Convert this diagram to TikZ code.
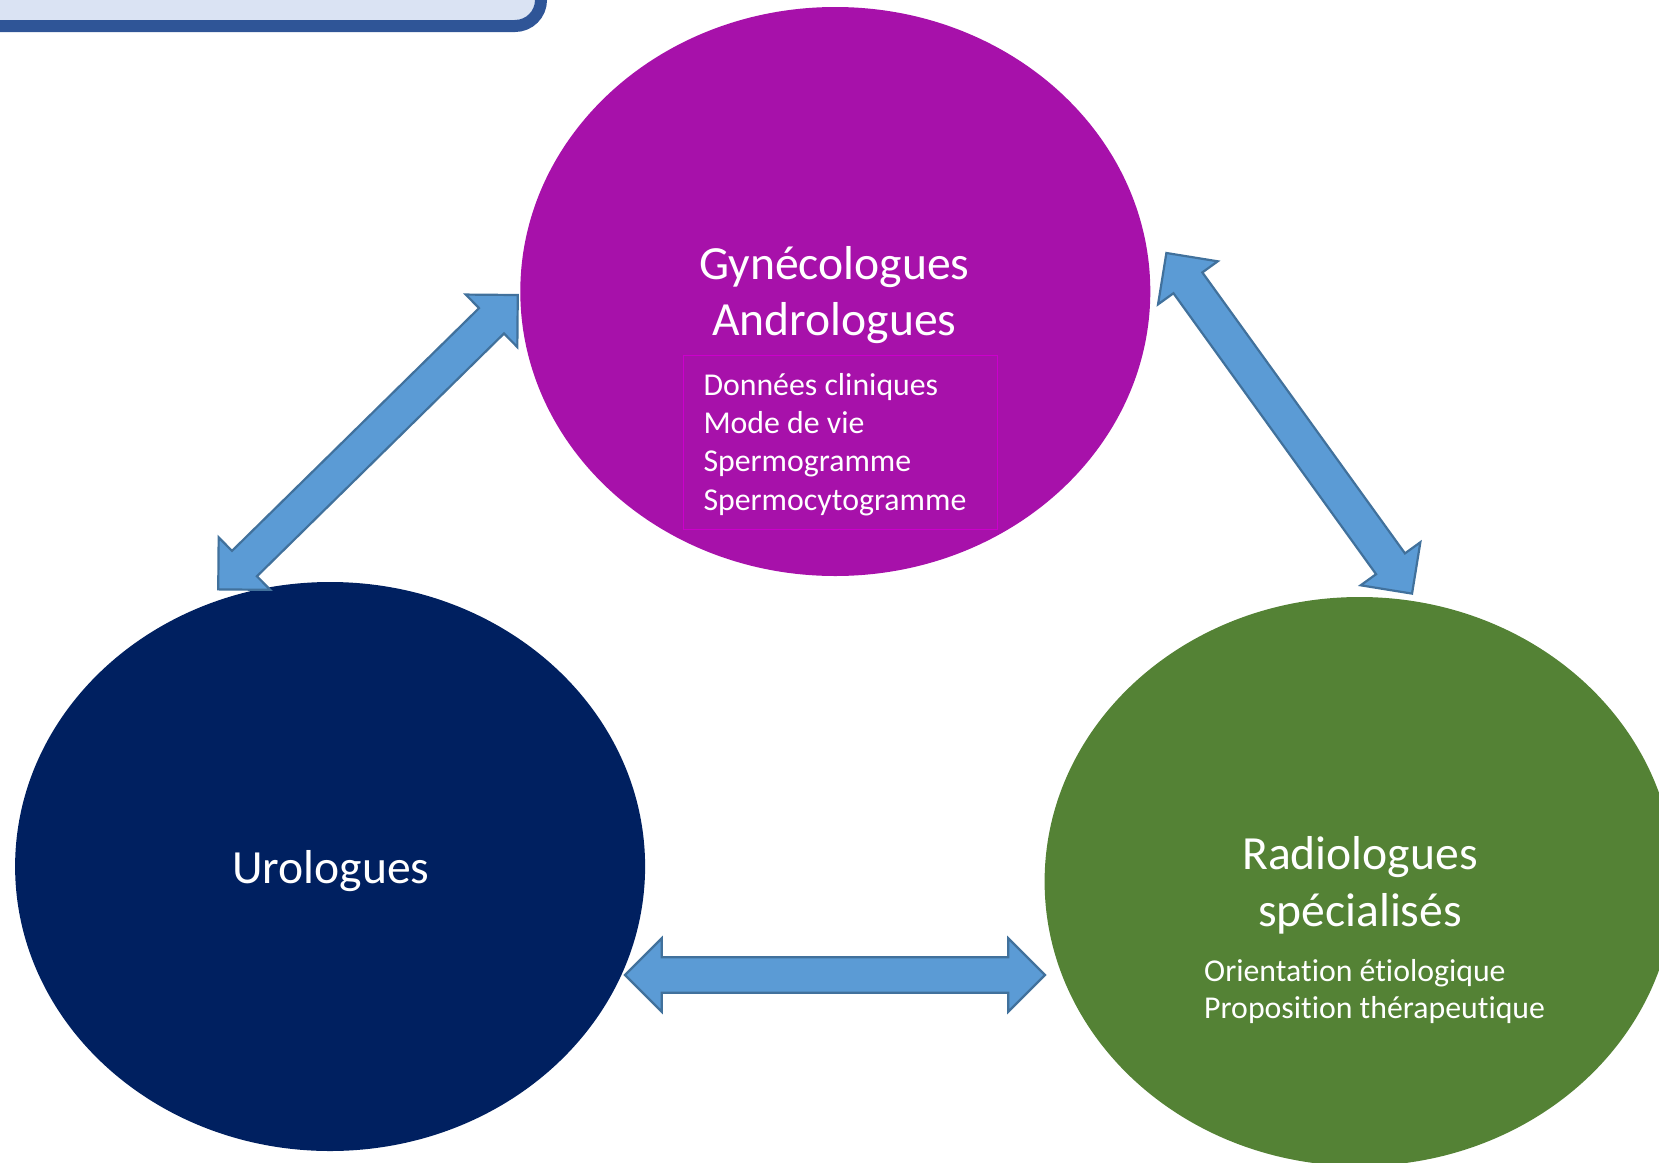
\documentclass[tikz,border=0pt]{standalone}
\usepackage{fontspec}
\setmainfont{Carlito}[Ligatures=NoCommon]
\usetikzlibrary{shapes.geometric}
\definecolor{purp}{RGB}{167,17,170}
\definecolor{navy}{RGB}{0,32,96}
\definecolor{grn}{RGB}{84,130,53}
\definecolor{arrfill}{RGB}{91,155,213}
\definecolor{arrline}{RGB}{65,113,156}
\definecolor{boxfill}{RGB}{218,227,243}
\definecolor{boxline}{RGB}{47,85,151}
\definecolor{magline}{RGB}{204,0,204}
\tikzset{
  bubble/.style={ellipse, minimum width=630pt, minimum height=569pt, inner sep=0pt, draw=none},
  title/.style={anchor=base, text=white, inner sep=0pt, font=\fontsize{47.6}{55}\selectfont},
  small/.style={anchor=base west, text=white, inner sep=0pt, font=\fontsize{31.8}{38}\selectfont},
  blockarrow/.style={fill=arrfill, draw=arrline, line width=2.2pt, line join=miter},
  pics/dblarrow/.style={code={
    \path[blockarrow] (-210,0) -- (-173.2,36.8) -- (-173.2,17.8) -- (173.2,17.8)
      -- (173.2,36.8) -- (210,0) -- (173.2,-36.8) -- (173.2,-17.8)
      -- (-173.2,-17.8) -- (-173.2,-36.8) -- cycle;
  }}
}
\begin{document}
\begin{tikzpicture}[x=1pt,y=-1pt]
\useasboundingbox (0,0) rectangle (1659,1162);
\clip (0,0) rectangle (1659,1162);
% top-left banner
\draw[fill=boxfill, draw=boxline, line width=12pt, rounded corners=26pt] (-80,-80) rectangle (541,26);
% bubbles
\node[bubble, fill=purp] (gyn) at (835.3,291.5) {};
\node[bubble, fill=navy] (uro) at (330.1,866.5) {};
\node[bubble, fill=grn] (rad) at (1359.6,881.5) {};
% titles
\node[title] (gyn1) at (834.3,279.7) {Gynécologues};
\node[title] (gyn2) at (834.3,335.5) {Andrologues};
\node[title] (uro1) at (331,883) {Urologues};
\node[title] (rad1) at (1360,869) {Radiologues};
\node[title] (rad2) at (1360,926) {spécialisés};
% inner box of gyn
\node[draw=magline, line width=1.3pt, minimum width=314pt, minimum height=174pt, inner sep=0pt] (gynbox) at (840.3,442.2) {};
\node[small] (g1) at (703.3,395) {Données cliniques};
\node[small] (g2) at (703.3,433.3) {Mode de vie};
\node[small] (g3) at (703.3,471.7) {Spermogramme};
\node[small] (g4) at (703.3,510) {Spermocytogramme};
\node[small] (r1) at (1204,981.7) {Orientation étiologique};
\node[small] (r2) at (1204,1018.3) {Proposition thérapeutique};
% block arrows
\pic[rotate=44.5] (a1) at (368,442.2) {dblarrow};
\pic[rotate=-54.2] (a2) at (1289.2,423.3) {dblarrow};
\pic (a3) at (835,975) {dblarrow};
\end{tikzpicture}
\end{document}
